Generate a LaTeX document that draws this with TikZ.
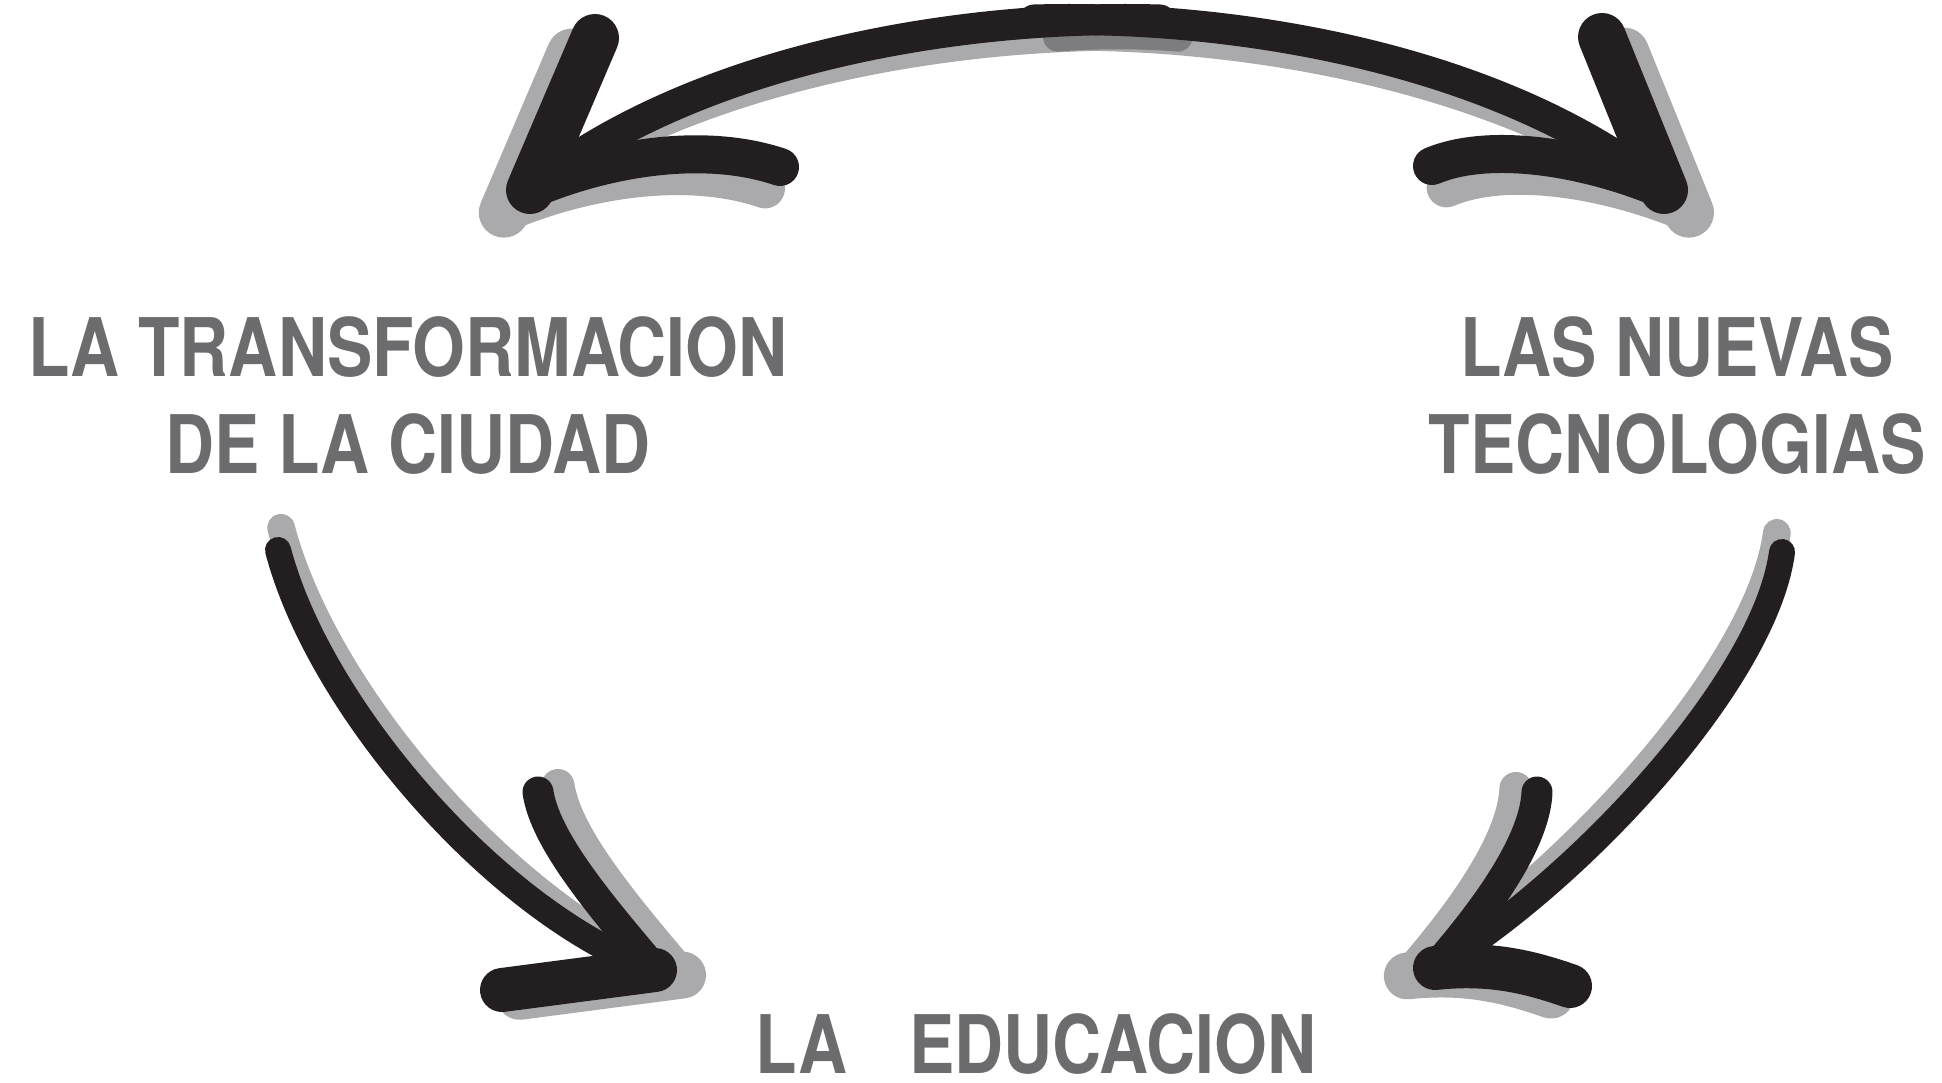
\documentclass[tikz,border=0pt]{standalone}
\usepackage{fontspec}
\usepackage{graphicx}
\usepackage{tikz}
\newfontfamily\wordfont{TeX Gyre Heros}
\newcommand{\squeeze}[1]{\scalebox{0.84}[1]{#1}}
\definecolor{ink}{RGB}{35,31,32}
\definecolor{shadowgray}{RGB}{170,170,172}
\definecolor{patchgray}{RGB}{125,125,127}
\definecolor{wordgray}{RGB}{108,108,110}

\newcommand{\topsweep}{%
\draw [shaft, line width=3.1mm] (tl) .. controls (690,62) and (950,14) .. (tml);
\draw [shaft, line width=3.1mm] (tr) .. controls (1504,62) and (1244,14) .. (tmr);
\draw [barb] (tl) -- (tlu);
\draw [barb] (tr) -- (tru);
\draw [barb, line width=3.8mm] (tl) .. controls (600,160) and (700,140) .. (tll);
\draw [barb, line width=3.8mm] (tr) .. controls (1594,160) and (1494,140) .. (trl);
}
\newcommand{\leftsweep}{%
\draw [shaft] (bls) .. controls (320,710) and (500,915) .. (bl);
\draw [barb, line width=3.1mm] (bl) .. controls (600,905) and (545,840) .. (blu);
\draw [barb, line width=4.4mm] (bl) -- (bll);
}
\newcommand{\rightsweep}{%
\draw [shaft] (brs) .. controls (1765,680) and (1580,880) .. (br);
\draw [barb, line width=3.1mm] (br) .. controls (1490,905) and (1535,840) .. (bru);
\draw [barb, line width=4.4mm] (br) .. controls (1490,962) and (1530,972) .. (brl);
}

\begin{document}
\begin{tikzpicture}[x=0.1mm, y=-0.1mm,
  word/.style={font=\wordfont\bfseries\fontsize{23}{27.6}\selectfont, text=wordgray, align=center, inner sep=0pt},
  shaft/.style={line width=2.6mm, line cap=round, line join=round},
  barb/.style={line width=4.8mm, line cap=round, line join=round}]
\useasboundingbox (0,0) rectangle (1942,1082);

\node (ciudad) at (408,316) [word, anchor=north] {\squeeze{LA TRANSFORMACION}\\\squeeze{DE LA CIUDAD}};
\node (tecno) at (1677,316) [word, anchor=north] {\squeeze{LAS NUEVAS}\\\squeeze{TECNOLOGIAS}};
\node (educacion) at (1036,1073) [word, anchor=base] {\squeeze{LA\hspace{7.4mm}EDUCACION}};

\coordinate (tl) at (530,190);
\coordinate (tlu) at (595,38);
\coordinate (tll) at (780,167);
\coordinate (tml) at (1160,20);
\coordinate (tr) at (1664,190);
\coordinate (tru) at (1602,37);
\coordinate (trl) at (1432,166);
\coordinate (tmr) at (1034,20);
\coordinate (bls) at (278,550);
\coordinate (bl) at (655,970);
\coordinate (blu) at (538,792);
\coordinate (bll) at (502,990);
\coordinate (brs) at (1782,552);
\coordinate (br) at (1435,968);
\coordinate (bru) at (1537,792);
\coordinate (brl) at (1570,986);

\begin{scope}[color=shadowgray, transform canvas={shift={(-50,14)}, scale=1.045}]
\topsweep
\draw [patchgray, line width=2.8mm, line cap=round] (1060,22) .. controls (1095,19) and (1140,19) .. (1175,22);
\end{scope}
\begin{scope}[color=shadowgray, transform canvas={shift={(-15,-58)}, scale=1.065}]
\leftsweep
\end{scope}
\begin{scope}[color=shadowgray, transform canvas={shift={(-121,-55)}, scale=1.065}]
\rightsweep
\end{scope}

\begin{scope}[color=ink]
\topsweep
\leftsweep
\rightsweep
\end{scope}
\end{tikzpicture}
\end{document}
